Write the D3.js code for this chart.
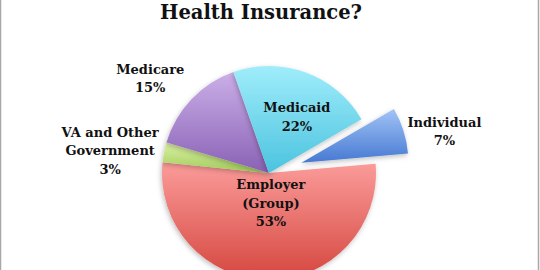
<!DOCTYPE html>
<html>
<head>
<meta charset="utf-8">
<script src="https://cdn.jsdelivr.net/npm/d3@7"></script>
<style>
  body { margin: 0; background: #fff; }
  svg { display: block; }
  text { font-family: "DejaVu Serif", "Liberation Serif", serif; font-weight: bold; fill: #111; }
</style>
</head>
<body>
<div id="chart"></div>
<script>
// data (order as it goes round the pie, clockwise)
const categories = ["Employer (Group)", "VA and Other Government", "Medicare", "Medicaid", "Individual"]
const values = [53, 3, 15, 22, 7]
const labelLines = [["Employer", "(Group)"], ["VA and Other", "Government"], ["Medicare"], ["Medicaid"], ["Individual"]]
const exploded = ["Individual"]
const title = "Health Insurance?"

const width = 540
const height = 270
const cx = 269
const cy = 173
const radius = 107
const explodeBy = 34
const startDeg = 85

// colours: [top, bottom] of each slice gradient
const colors = {
  "Employer (Group)": ["#fb9c9a", "#d5463f"],
  "VA and Other Government": ["#dcf2a6", "#9fcb58"],
  "Medicare": ["#cbafe8", "#8961b5"],
  "Medicaid": ["#a0edfb", "#4bc3df"],
  "Individual": ["#a2c4f6", "#4679d2"]
}

// label placement: extra angle (deg) and distance as a fraction of the radius
const labelPos = {
  "Employer (Group)": { da: -4, k: 0.28 },
  "VA and Other Government": { da: -3, k: 1.5 },
  "Medicare": { da: -5, k: 1.42 },
  "Medicaid": { da: 6, k: 0.59 },
  "Individual": { da: 5, k: 1.37 }
}

const svg = d3.select("#chart").append("svg")
  .attr("width", width)
  .attr("height", height)

const defs = svg.append("defs")
categories.forEach((c, i) => {
  const g = defs.append("linearGradient")
    .attr("id", "grad" + i)
    .attr("x1", 0).attr("y1", 0).attr("x2", 0).attr("y2", 1)
  g.append("stop").attr("offset", "0%").attr("stop-color", colors[c][0])
  g.append("stop").attr("offset", "100%").attr("stop-color", colors[c][1])
})
const shadow = defs.append("filter").attr("id", "shadow")
  .attr("x", "-20%").attr("y", "-20%").attr("width", "140%").attr("height", "140%")
shadow.append("feDropShadow")
  .attr("dx", -1).attr("dy", 2).attr("stdDeviation", 2.5)
  .attr("flood-color", "#000").attr("flood-opacity", 0.25)

// frame (only the sides show in the crop)
svg.append("line").attr("x1", 0.5).attr("x2", 0.5).attr("y1", 0).attr("y2", height)
  .attr("stroke", "#a8a8a8").attr("stroke-width", 1.5)
svg.append("line").attr("x1", 538.5).attr("x2", 538.5).attr("y1", 0).attr("y2", height)
  .attr("stroke", "#a8a8a8").attr("stroke-width", 1.5)

// title
svg.append("text")
  .attr("x", 261)
  .attr("y", 19)
  .attr("text-anchor", "middle")
  .style("font-size", "19.5px")
  .text(title)

const rad = Math.PI / 180
const pie = d3.pie().sort(null)
  .startAngle(startDeg * rad)
  .endAngle((startDeg + 360) * rad)
const arcs = pie(values).map((d, i) => Object.assign(d, { name: categories[i], idx: i }))

const arc = d3.arc().innerRadius(0).outerRadius(radius)

function offset(d) {
  if (!exploded.includes(d.name)) return [0, 0]
  const a = (d.startAngle + d.endAngle) / 2
  return [explodeBy * Math.sin(a), -explodeBy * Math.cos(a)]
}

const pieG = svg.append("g")
  .attr("transform", `translate(${cx},${cy})`)

pieG.selectAll("path")
  .data(arcs)
  .join("path")
  .attr("transform", d => `translate(${offset(d)})`)
  .attr("d", arc)
  .attr("fill", d => `url(#grad${d.idx})`)
  .attr("filter", "url(#shadow)")

// labels
const lh = 18.5
const labels = pieG.selectAll("text.lbl")
  .data(arcs)
  .join("text")
  .attr("class", "lbl")
  .attr("text-anchor", "middle")
  .style("font-size", "13px")
  .each(function (d) {
    const p = labelPos[d.name]
    const a = (d.startAngle + d.endAngle) / 2 + p.da * rad
    const o = offset(d)
    const x = o[0] + p.k * radius * Math.sin(a)
    const y = o[1] - p.k * radius * Math.cos(a)
    const lines = labelLines[d.idx].concat([d3.format(".0%")(d.value / 100)])
    const n = lines.length
    d3.select(this).selectAll("tspan")
      .data(lines)
      .join("tspan")
      .attr("x", x)
      .attr("y", (t, i) => y + (i - (n - 1) / 2) * lh + 5)
      .text(t => t)
  })
</script>
</body>
</html>
